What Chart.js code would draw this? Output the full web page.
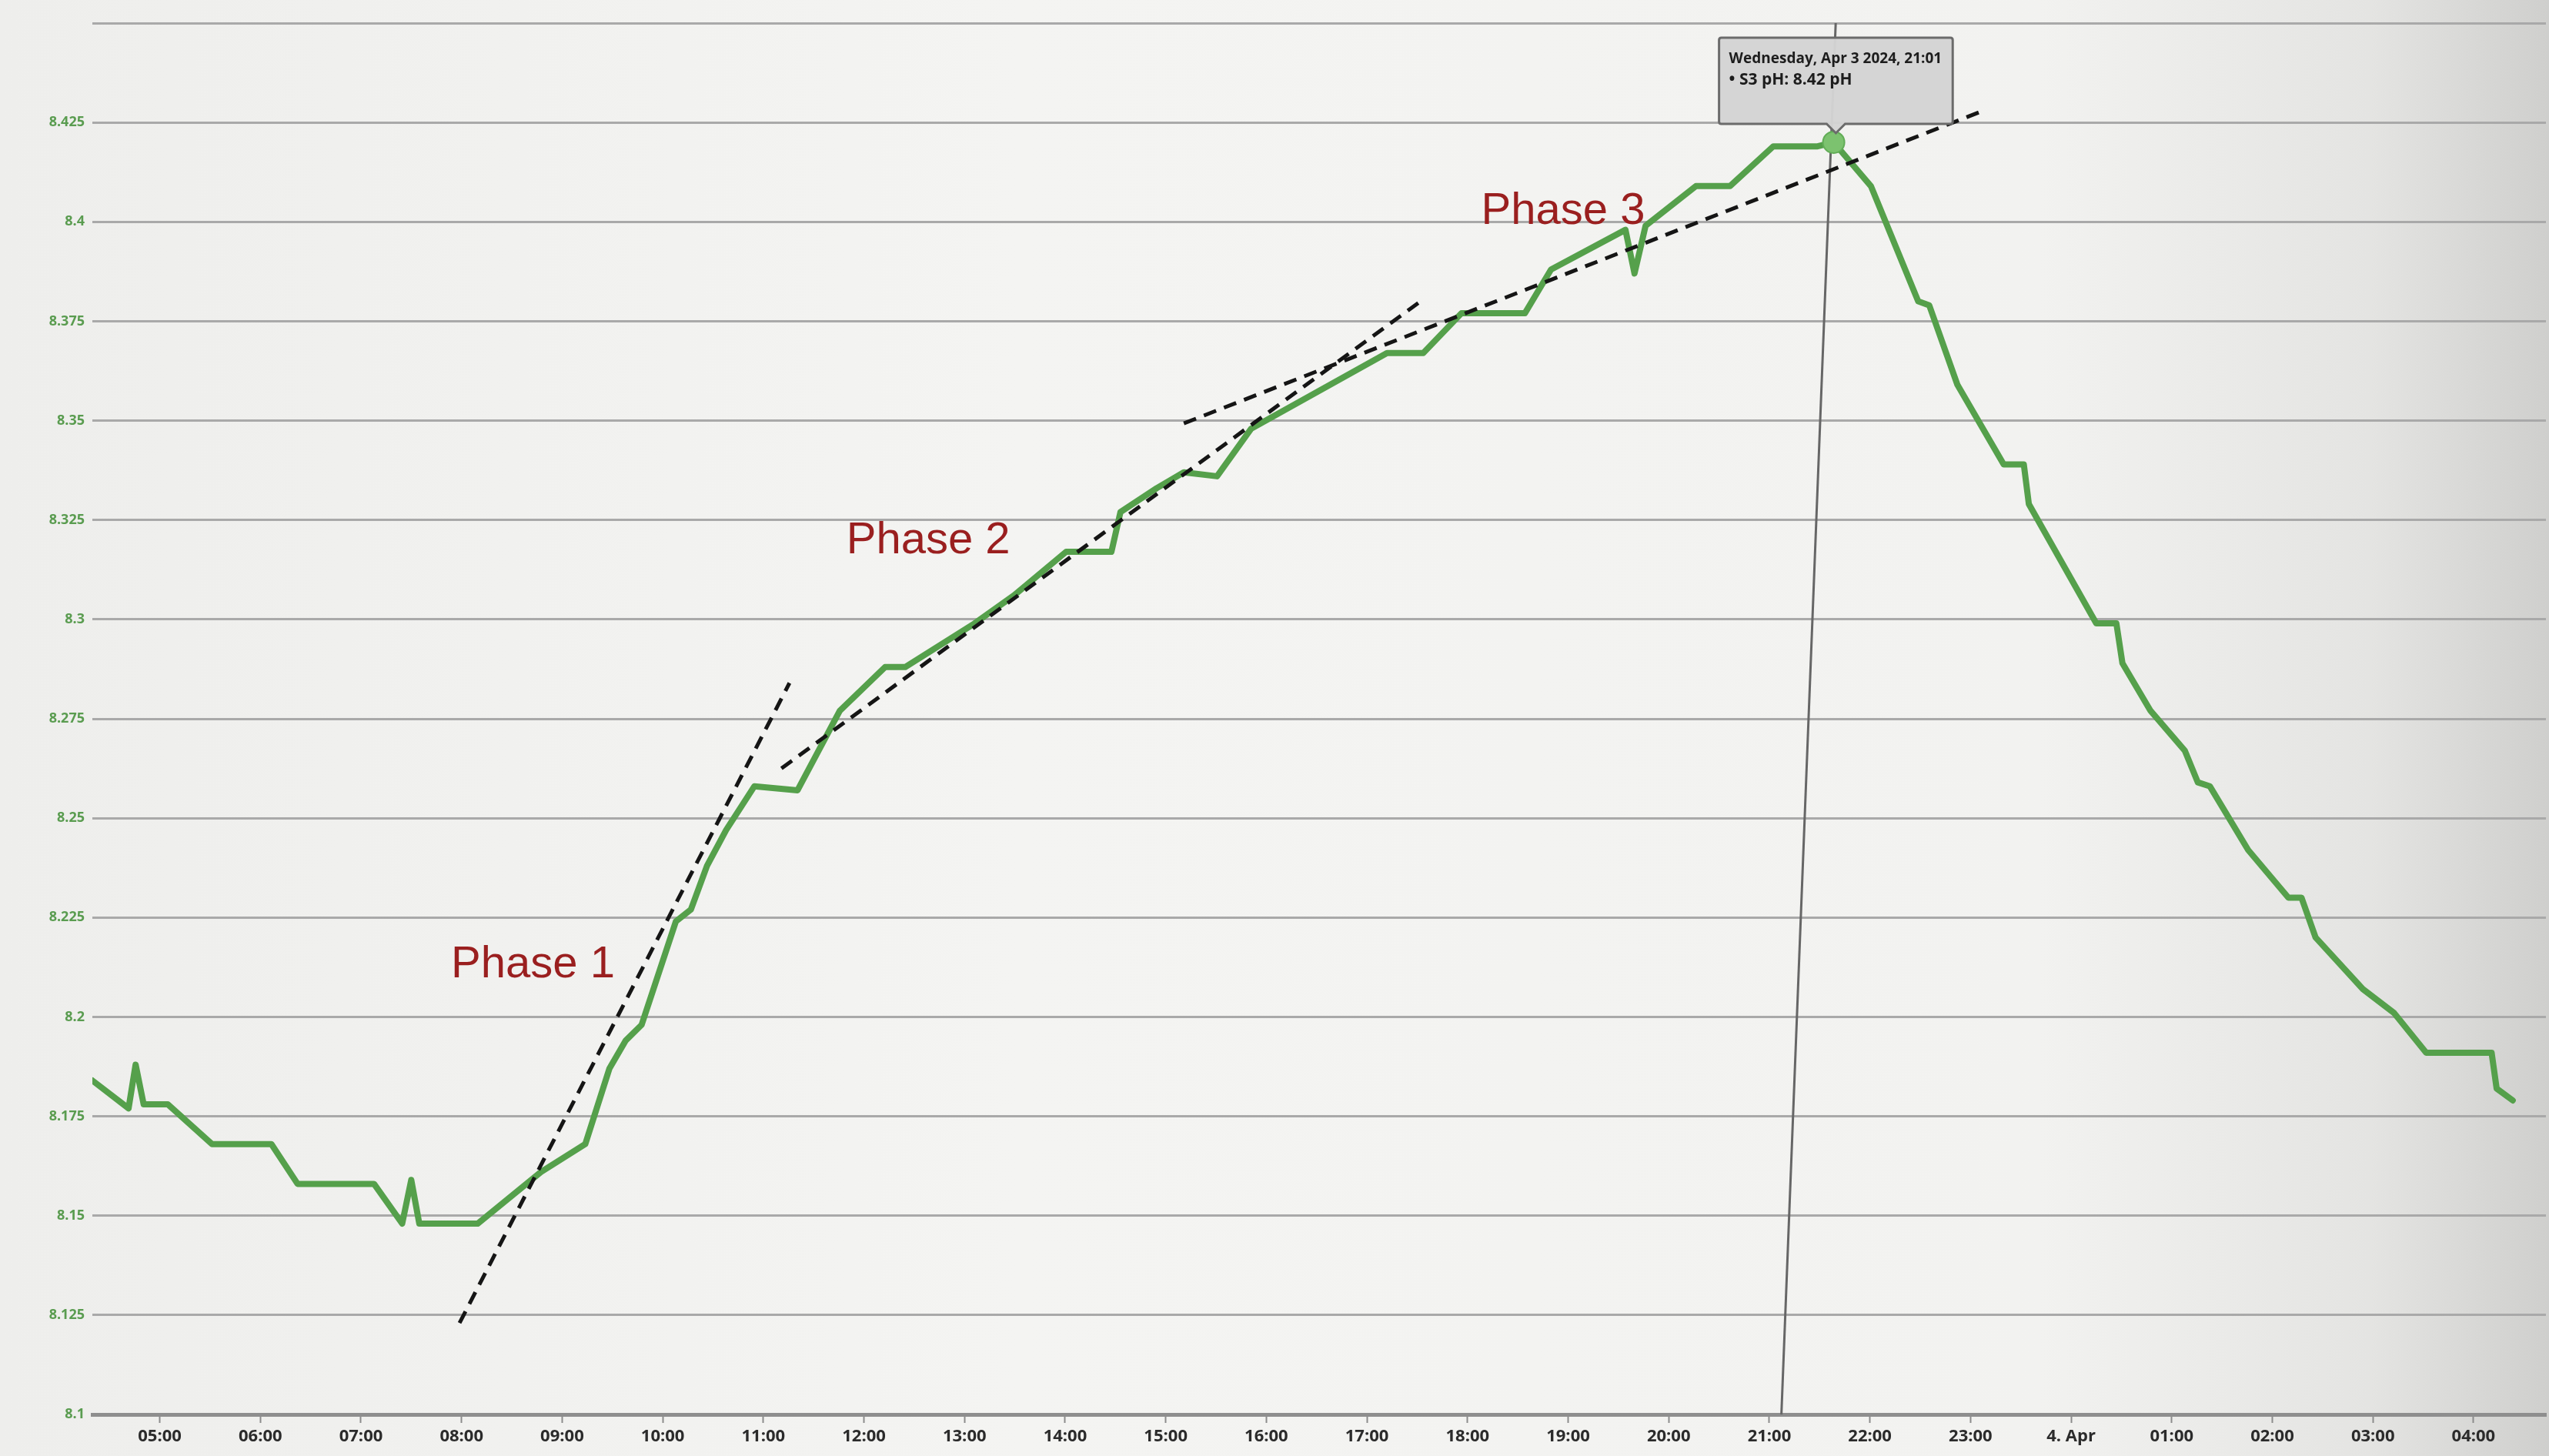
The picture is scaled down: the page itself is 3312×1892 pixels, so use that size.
<!DOCTYPE html>
<html>
<head>
<meta charset="utf-8">
<script src="https://cdn.jsdelivr.net/npm/chart.js@4.4.1/dist/chart.umd.min.js"></script>
<style>
  html, body { margin: 0; padding: 0; }
  body {
    width: 3312px; height: 1892px; overflow: hidden;
    background: linear-gradient(to right, #eeeeec 0%, #f4f4f2 40%, #f2f2f0 80%, #e4e4e2 93%, #cfcfcd 100%);
  }
  #wrap { position: relative; width: 3312px; height: 1892px; }
</style>
</head>
<body>
<div id="wrap"><canvas id="chart"></canvas></div>
<script>
// hours counted from Apr 3 00:00 (24 = 4. Apr 00:00)
const times = [4.33, 4.69, 4.76, 4.84, 5.08, 5.52, 6.11, 6.37, 7.13, 7.41, 7.50, 7.58, 8.16,
  8.79, 9.23, 9.47, 9.63, 9.79, 10.13, 10.28, 10.44, 10.63, 10.91, 11.34, 11.76, 12.21, 12.41,
  13.10, 13.49, 14.01, 14.46, 14.55, 14.91, 15.18, 15.51, 15.85, 17.20, 17.56, 17.94, 18.57,
  18.83, 19.57, 19.66, 19.77, 20.27, 20.61, 21.04, 21.48, 21.64, 22.01, 22.48, 22.59, 22.87,
  23.33, 23.53, 23.58, 24.25, 24.45, 24.51, 24.79, 25.13, 25.26, 25.38, 25.76, 26.16, 26.29,
  26.43, 26.90, 27.21, 27.53, 28.18, 28.23, 28.39];
const phValues = [8.184, 8.177, 8.188, 8.178, 8.178, 8.168, 8.168, 8.158, 8.158, 8.148, 8.159, 8.148, 8.148,
  8.161, 8.168, 8.187, 8.194, 8.198, 8.224, 8.227, 8.238, 8.247, 8.258, 8.257, 8.277, 8.288, 8.288,
  8.299, 8.306, 8.317, 8.317, 8.327, 8.333, 8.337, 8.336, 8.348, 8.367, 8.367, 8.377, 8.377,
  8.388, 8.398, 8.387, 8.399, 8.409, 8.409, 8.419, 8.419, 8.42, 8.409, 8.380, 8.379, 8.359,
  8.339, 8.339, 8.329, 8.299, 8.299, 8.289, 8.277, 8.267, 8.259, 8.258, 8.242, 8.230, 8.230,
  8.220, 8.207, 8.201, 8.191, 8.191, 8.182, 8.179];
const peakIndex = 48;

// hand-drawn trend lines
const phase1X = [7.98, 11.26];
const phase1Y = [8.123, 8.284];
const phase2X = [11.18, 17.51];
const phase2Y = [8.2625, 8.3796];
const phase3X = [15.18, 23.13];
const phase3Y = [8.3493, 8.428];

// crosshair of the tooltip (photo is slightly skewed)
const crossX = [21.12, 21.66];
const crossY = [8.1, 8.45];

const tickHours = [5, 6, 7, 8, 9, 10, 11, 12, 13, 14, 15, 16, 17, 18, 19, 20, 21, 22, 23, 24, 25, 26, 27, 28];
const tickLabels = ['05:00', '06:00', '07:00', '08:00', '09:00', '10:00', '11:00', '12:00', '13:00', '14:00',
  '15:00', '16:00', '17:00', '18:00', '19:00', '20:00', '21:00', '22:00', '23:00', '4. Apr',
  '01:00', '02:00', '03:00', '04:00'];

const phaseNames = ['Phase 1', 'Phase 2', 'Phase 3'];
const phaseAtX = [8.71, 12.64, 18.95];
const phaseAtY = [8.213, 8.3197, 8.4026];

const tooltipTitle = 'Wednesday, Apr 3 2024, 21:01';

function toPoints(xs, ys) {
    return xs.map((x, i) => ({x: x, y: ys[i]}));
}

const dashed = {
    borderColor: '#151515',
    borderWidth: 5,
    borderDash: [17, 11],
    pointRadius: 0,
    fill: false,
    tension: 0
};

//Phase labels drawn in data coordinates
const phaseLabels = {
    id: 'phaseLabels',
    afterDatasetsDraw(chart) {
        const c = chart.ctx;
        const xs = chart.scales.x, ys = chart.scales.y;
        c.save();
        c.font = '58px "Liberation Sans", Arial, sans-serif';
        c.fillStyle = '#9a1f1f';
        c.textAlign = 'center';
        c.textBaseline = 'middle';
        phaseNames.forEach((name, i) => {
            c.fillText(name, xs.getPixelForValue(phaseAtX[i]), ys.getPixelForValue(phaseAtY[i]));
        });
        c.restore();
    }
};

const data = {
    datasets: [
        Object.assign({data: toPoints(phase1X, phase1Y)}, dashed),
        Object.assign({data: toPoints(phase2X, phase2Y)}, dashed),
        Object.assign({data: toPoints(phase3X, phase3Y)}, dashed),
        {
            label: 'S3 pH',
            data: toPoints(times, phValues),
            borderColor: '#55a04b',
            borderWidth: 8,
            borderJoinStyle: 'round',
            borderCapStyle: 'round',
            tension: 0,
            fill: false,
            pointRadius: (ctx) => ctx.dataIndex === peakIndex ? 14 : 0,
            pointHoverRadius: (ctx) => ctx.dataIndex === peakIndex ? 14 : 0,
            pointBackgroundColor: '#7cc26f',
            pointBorderColor: '#62ad57',
            pointHoverBackgroundColor: '#7cc26f',
            pointHoverBorderColor: '#62ad57',
            pointBorderWidth: 2,
            pointHoverBorderWidth: 2
        },
        {
            data: toPoints(crossX, crossY),
            borderColor: '#666666',
            borderWidth: 3,
            pointRadius: 0,
            fill: false
        }
    ]
};

const config = {
    type: 'line',
    data: data,
    options: {
        responsive: true,
        maintainAspectRatio: false,
        animation: false,
        events: [],
        layout: {padding: {top: 30, left: 0, right: 0, bottom: 0}},
        scales: {
            x: {
                type: 'linear',
                min: 4.33,
                max: 28.72,
                afterFit: (scale) => { scale.height = 54; },
                grid: {
                    drawOnChartArea: false,
                    drawTicks: true,
                    tickLength: 11,
                    tickWidth: 2,
                    tickColor: '#8c8c8c'
                },
                border: {display: true, color: '#8e8e8e', width: 5},
                ticks: {
                    stepSize: 1,
                    maxTicksLimit: 40,
                    includeBounds: false,
                    autoSkip: false,
                    maxRotation: 0,
                    padding: 5,
                    color: '#2b2b2b',
                    font: {size: 22, weight: 'bold', family: '"Open Sans", sans-serif'},
                    callback: (value) => {
                        const i = tickHours.indexOf(value);
                        return i >= 0 ? tickLabels[i] : '';
                    }
                }
            },
            y: {
                min: 8.1,
                max: 8.45,
                afterFit: (scale) => { scale.width = 120; },
                grid: {
                    color: '#a9a9a9',
                    lineWidth: 3,
                    drawTicks: false
                },
                border: {display: false},
                ticks: {
                    stepSize: 0.025,
                    maxTicksLimit: 30,
                    padding: 10,
                    color: '#5a9c50',
                    font: {size: 18, weight: 'bold', family: '"Open Sans", sans-serif'},
                    callback: (value) => {
                        if (Math.abs(value - 8.45) < 0.001) return '';
                        return String(Number(value.toFixed(3)));
                    }
                }
            }
        },
        plugins: {
            legend: {display: false},
            tooltip: {
                enabled: true,
                animation: false,
                yAlign: 'bottom',
                xAlign: 'center',
                displayColors: false,
                backgroundColor: 'rgba(212, 212, 212, 0.97)',
                borderColor: '#6b6b6b',
                borderWidth: 3,
                cornerRadius: 3,
                caretSize: 12,
                caretPadding: 12,
                padding: {top: 16, left: 13, right: 14, bottom: 44},
                titleColor: '#1d1d1d',
                bodyColor: '#1d1d1d',
                titleFont: {size: 19, weight: 'bold', family: '"Open Sans", sans-serif'},
                bodyFont: {size: 21, weight: 'bold', family: '"Open Sans", sans-serif'},
                titleMarginBottom: 4,
                filter: (item) => item.datasetIndex === 3,
                callbacks: {
                    title: () => tooltipTitle,
                    label: (ctx) => '\u2022 S3 pH: ' + ctx.parsed.y.toFixed(2) + ' pH'
                }
            }
        }
    },
    plugins: [phaseLabels]
};

//Creating the chart and pinning the tooltip on the peak
const canvas = document.getElementById('chart').getContext('2d');
const myChart = new Chart(canvas, config);
const active = [{datasetIndex: 3, index: peakIndex}];
myChart.setActiveElements(active);
myChart.tooltip.setActiveElements(active, {x: 0, y: 0});
myChart.update();
</script>
</body>
</html>
